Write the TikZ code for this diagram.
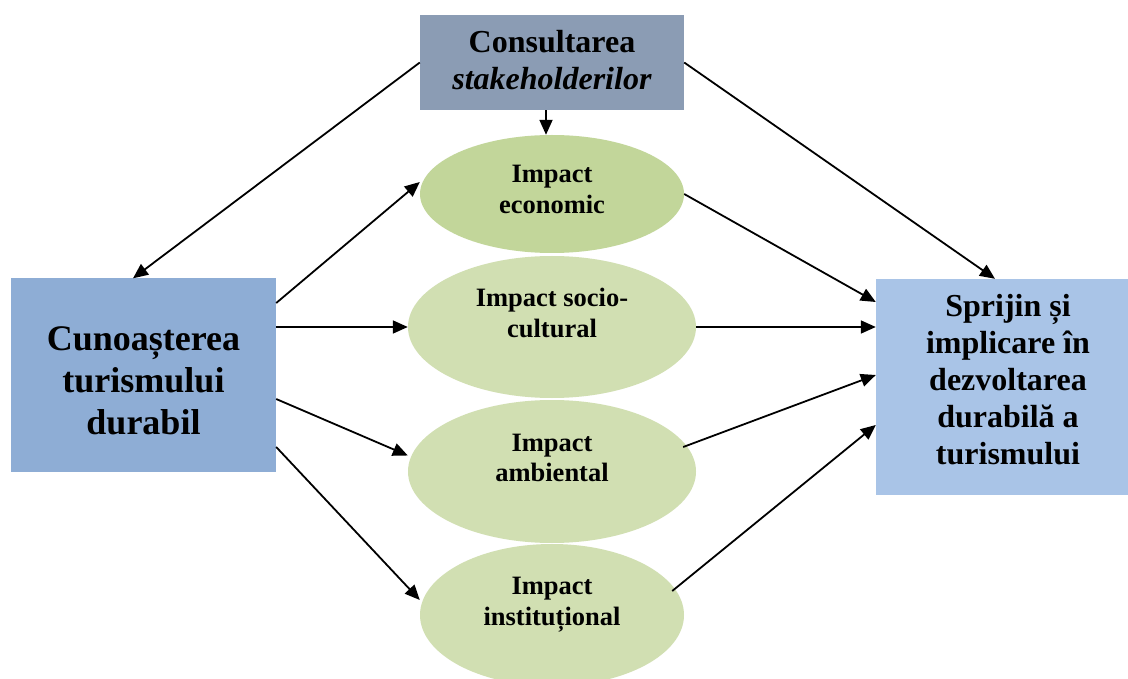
\documentclass[tikz,border=0pt]{standalone}
\usepackage{fontspec}
\setmainfont{Liberation Serif}
\usetikzlibrary{arrows.meta,shapes.geometric,calc}
\definecolor{topbox}{HTML}{8B9CB4}
\definecolor{leftbox}{HTML}{8EADD5}
\definecolor{rightbox}{HTML}{A9C4E7}
\definecolor{ellA}{HTML}{C2D69A}
\definecolor{ellB}{HTML}{D1DFB2}
\tikzset{
  boxshape/.style={rectangle, draw=none, inner sep=0pt},
  ellshape/.style={ellipse, draw=none, inner sep=0pt},
  boxtext/.style={align=center, inner sep=0pt, font=\bfseries\fontsize{32}{37}\selectfont},
  bigtext/.style={align=center, inner sep=0pt, font=\bfseries\fontsize{36}{42}\selectfont},
  elltext/.style={align=center, inner sep=0pt, font=\bfseries\fontsize{26.5}{30.6}\selectfont},
  conn/.style={line width=1.8pt, -{Triangle[length=15pt,width=13pt]}}
}
\begin{document}
\begin{tikzpicture}[x=1pt,y=-1pt]
\clip (0,0) rectangle (1128,679);
\fill[white] (0,0) rectangle (1128,679);
% shapes
\node[boxshape, fill=topbox, minimum width=264pt, minimum height=95pt] (T) at (552,62.5) {};
\node[boxshape, fill=leftbox, minimum width=265pt, minimum height=193pt] (L) at (143.5,375) {};
\node[boxshape, fill=rightbox, minimum width=252pt, minimum height=216pt] (R) at (1002,387) {};
\node[ellshape, fill=ellA, minimum width=264pt, minimum height=118pt] (E1) at (552,194) {};
\node[ellshape, fill=ellB, minimum width=288pt, minimum height=142pt] (E2) at (552,327) {};
\node[ellshape, fill=ellB, minimum width=288pt, minimum height=143pt] (E3) at (552,471.5) {};
\node[ellshape, fill=ellB, minimum width=264pt, minimum height=142pt] (E4) at (552,615) {};
% texts
\node[boxtext] (tT) at (552,64.1) {\strut Consultarea\\ \textit{stakeholderilor}\strut};
\node[bigtext] (tL) at (143.5,384.2) {\strut Cunoașterea\\turismului\\durabil\strut};
\node[boxtext] (tR) at (1008,383) {\strut Sprijin și\\implicare în\\dezvoltarea\\durabilă a\\turismului\strut};
\node[elltext] (t1) at (552,191.9) {\strut Impact\\economic\strut};
\node[elltext] (t2) at (552,315.9) {\strut Impact socio-\\cultural\strut};
\node[elltext] (t3) at (552,460.2) {\strut Impact\\ambiental\strut};
\node[elltext] (t4) at (552,603.9) {\strut Impact\\instituțional\strut};
% connectors
\draw[conn] (T.west) -- ([xshift=-10.5pt]L.north);
\draw[conn] (T.east) -- ([xshift=-7pt]R.north);
\draw[conn] ([xshift=-6pt]T.south) -- ([xshift=-6pt]E1.north);
\draw[conn] ([yshift=72pt]L.east) -- ([yshift=12pt]E1.west);
\draw[conn] ([yshift=48pt]L.east) -- (E2.west);
\draw[conn] ([yshift=-24pt]L.east) -- ([yshift=16pt]E3.west);
\draw[conn] ([yshift=-72pt]L.east) -- ([yshift=15pt]E4.west);
\draw[conn] (E1.east) -- ([yshift=85pt]R.west);
\draw[conn] (E2.east) -- ([yshift=60pt]R.west);
\draw[conn] ([xshift=-13pt,yshift=24.5pt]E3.east) -- ([yshift=12pt]R.west);
\draw[conn] ([xshift=-12pt,yshift=24pt]E4.east) -- ([yshift=-38pt]R.west);
\end{tikzpicture}
\end{document}
